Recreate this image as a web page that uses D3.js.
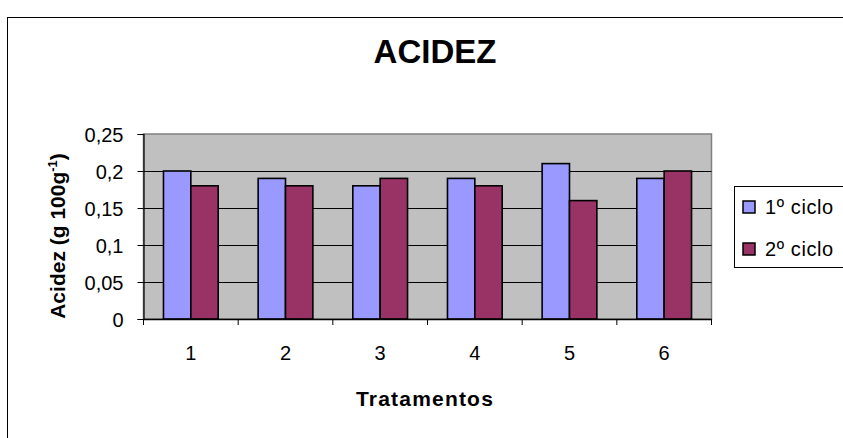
<!DOCTYPE html>
<html>
<head>
<meta charset="utf-8">
<script src="https://cdn.jsdelivr.net/npm/d3@7/dist/d3.min.js"></script>
<style>
  html, body { margin: 0; padding: 0; background: #fff; }
  svg { display: block; font-family: "Liberation Sans", Arial, sans-serif; }
</style>
</head>
<body>
<svg id="chart" width="843" height="438"></svg>
<script>
const categories = ["1", "2", "3", "4", "5", "6"];
const seriesNames = ["1º ciclo", "2º ciclo"];
const ciclo1 = [0.20, 0.19, 0.18, 0.19, 0.21, 0.19];
const ciclo2 = [0.18, 0.18, 0.19, 0.18, 0.16, 0.20];
const yTicks = [0, 0.05, 0.1, 0.15, 0.2, 0.25];
const colors = ["#9999FF", "#993366"];

const svg = d3.select("#chart");
const W = 843, H = 438;
svg.append("rect").attr("x", 0).attr("y", 0).attr("width", W).attr("height", H).attr("fill", "#fff");

// outer chart frame (extends past viewport)
svg.append("rect").attr("x", 7.5).attr("y", 17.5).attr("width", 1000).attr("height", 600)
  .attr("fill", "#fff").attr("stroke", "#000").attr("stroke-width", 1);

const plot = { left: 143.5, right: 711.5, top: 134, bottom: 319 };

const x0 = d3.scaleBand().domain(categories).range([plot.left, plot.right]).padding(0);
const x1 = d3.scaleBand().domain(seriesNames).range([0, x0.bandwidth()]).paddingInner(0).paddingOuter(0.73);
const y = d3.scaleLinear().domain([0, 0.25]).range([plot.bottom, plot.top]);

// plot background
svg.append("rect").attr("x", plot.left).attr("y", plot.top)
  .attr("width", plot.right - plot.left).attr("height", plot.bottom - plot.top)
  .attr("fill", "#C0C0C0").attr("stroke", "#808080").attr("stroke-width", 1.5);

// gridlines
svg.append("g").selectAll("line").data(yTicks.filter(d => d > 0 && d < 0.25)).join("line")
  .attr("x1", plot.left).attr("x2", plot.right)
  .attr("y1", d => Math.round(y(d)) + 0.5).attr("y2", d => Math.round(y(d)) + 0.5)
  .attr("stroke", "#000").attr("stroke-width", 1);

// bars
const rows = categories.map((c, i) => ({ cat: c, vals: [ciclo1[i], ciclo2[i]] }));
const groups = svg.append("g").selectAll("g").data(rows).join("g")
  .attr("transform", d => `translate(${x0(d.cat)},0)`);
groups.selectAll("rect").data(d => d.vals.map((v, k) => ({ k, v }))).join("rect")
  .attr("x", d => x1(seriesNames[d.k]))
  .attr("y", d => y(d.v))
  .attr("width", x1.bandwidth())
  .attr("height", d => y(0) - y(d.v))
  .attr("fill", d => colors[d.k])
  .attr("stroke", "#000").attr("stroke-width", 1.6);

// y axis
const yAxis = d3.axisLeft(y).tickValues(yTicks).tickSize(6)
  .tickFormat(d => String(+d.toFixed(2)).replace(".", ","));
const gy = svg.append("g").attr("transform", `translate(${plot.left},0)`).call(yAxis);
gy.select(".domain").attr("stroke", "#000").attr("stroke-width", 1.2);
gy.selectAll(".tick line").attr("stroke", "#000");
gy.selectAll(".tick text").attr("font-size", 20).attr("fill", "#000")
  .attr("font-family", "Liberation Sans, Arial, sans-serif").attr("x", -20).attr("dy", "0.35em");

// x axis
const xAxis = d3.axisBottom(x0).tickSize(0).tickPadding(0);
const gx = svg.append("g").attr("transform", `translate(0,${plot.bottom})`).call(xAxis);
gx.select(".domain").attr("stroke", "#000").attr("stroke-width", 1.5);
gx.selectAll(".tick text").attr("font-size", 20).attr("fill", "#000")
  .attr("font-family", "Liberation Sans, Arial, sans-serif").attr("y", 40.5).attr("dy", 0);
// category boundary ticks
const bounds = categories.map(c => x0(c)).concat([x0(categories[categories.length - 1]) + x0.bandwidth()]);
gx.append("g").selectAll("line").data(bounds).join("line")
  .attr("x1", d => d).attr("x2", d => d).attr("y1", 0).attr("y2", 6)
  .attr("stroke", "#000").attr("stroke-width", 1);

// title
svg.append("text").attr("x", 435).attr("y", 63).attr("text-anchor", "middle")
  .attr("font-size", 33).attr("font-weight", "bold").text("ACIDEZ");

// x axis title
svg.append("text").attr("x", 425).attr("y", 406).attr("text-anchor", "middle")
  .attr("font-size", 21).attr("font-weight", "bold").attr("letter-spacing", 1.2).text("Tratamentos");

// y axis title
const yt = svg.append("text").attr("transform", "translate(65,236) rotate(-90)")
  .attr("text-anchor", "middle").attr("font-size", 21).attr("font-weight", "bold");
yt.append("tspan").text("Acidez (g 100g");
yt.append("tspan").attr("font-size", 13).attr("dy", -8).text("-1");
yt.append("tspan").attr("dy", 8).text(")");

// legend
const lg = svg.append("g");
lg.append("rect").attr("x", 734.5).attr("y", 186.5).attr("width", 130).attr("height", 81)
  .attr("fill", "#fff").attr("stroke", "#000").attr("stroke-width", 1);
const legendY = [201, 243];
seriesNames.forEach((s, k) => {
  lg.append("rect").attr("x", 743).attr("y", legendY[k]).attr("width", 12).attr("height", 12)
    .attr("fill", colors[k]).attr("stroke", "#000").attr("stroke-width", 1.5);
  lg.append("text").attr("x", 765).attr("y", legendY[k] + 13).attr("font-size", 20)
    .attr("letter-spacing", 0.6).text(s);
});
</script>
</body>
</html>
